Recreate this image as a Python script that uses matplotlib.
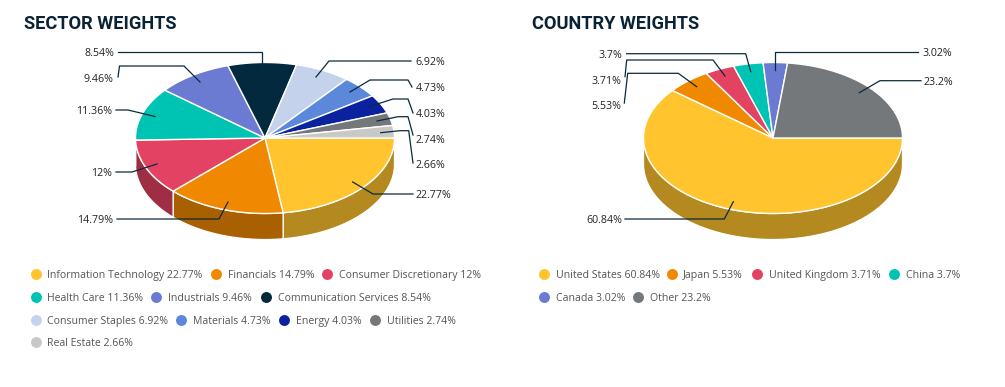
import numpy as np
import matplotlib
matplotlib.use("Agg")
import matplotlib.pyplot as plt

# ---------- data ----------
sector_names = ["Information Technology", "Financials", "Consumer Discretionary", "Health Care",
                "Industrials", "Communication Services", "Consumer Staples", "Materials",
                "Energy", "Utilities", "Real Estate"]
sector_values = [22.77, 14.79, 12, 11.36, 9.46, 8.54, 6.92, 4.73, 4.03, 2.74, 2.66]
country_names = ["United States", "Japan", "United Kingdom", "China", "Canada", "Other"]
country_values = [60.84, 5.53, 3.71, 3.7, 3.02, 23.2]

# ---------- styles ----------
sector_colors = ["#FFC42E", "#F08900", "#E34262", "#00C4B3", "#6C7BD2", "#02293D",
                 "#C5D2EC", "#5B88DB", "#0A22A0", "#75787B", "#C8C9C7"]
country_colors = ["#FFC42E", "#F08900", "#E34262", "#00C4B3", "#6C7BD2", "#75787B"]
TITLE = "#0B2235"; LABEL = "#222222"; LEG = "#555555"; LINE = "#0B2A3C"

W, H = 1005, 387
fig = plt.figure(figsize=(W / 100, H / 100), dpi=100, facecolor="white")
ax = fig.add_axes([0, 0, 1, 1])
ax.set_xlim(0, W); ax.set_ylim(H, 0); ax.axis("off")

RX, RY, DEPTH = 129.5, 75.5, 26


def darken(c, f=0.7):
    r, g, b = matplotlib.colors.to_rgb(c)
    return (r * f, g * f, b * f)


def pie3d(cx, cy, values, colors):
    fr = np.cumsum([0] + list(values)) / sum(values) * 2 * np.pi
    for i, c in enumerate(colors):
        a, b = fr[i], min(fr[i + 1], np.pi)
        if a >= np.pi:
            continue
        t = np.linspace(a, b, 80)
        x = cx + RX * np.cos(t); y = cy + RY * np.sin(t)
        ax.fill(np.r_[x, x[::-1]], np.r_[y, y[::-1] + DEPTH], fc=darken(c),
                ec="white", lw=0.9, zorder=2, joinstyle="round")
    for i, c in enumerate(colors):
        t = np.linspace(fr[i], fr[i + 1], 120)
        x = np.r_[cx, cx + RX * np.cos(t), cx]
        y = np.r_[cy, cy + RY * np.sin(t), cy]
        ax.fill(x, y, fc=c, ec="white", lw=1.0, zorder=3, joinstyle="round")


def leaders(items):
    for txt, ha, tx, ty, path in items:
        ax.plot(*zip(*path), color=LINE, lw=0.9, zorder=5, solid_joinstyle="round")
        ax.text(tx, ty + 3.6, txt, ha=ha, va="baseline", fontsize=7.7, color=LABEL,
                family="Open Sans", zorder=6)


def legend(names, values, colors, layout):
    for n, v, c, (mx, tx, y) in zip(names, values, colors, layout):
        ax.scatter([mx], [y], s=62, color=c, lw=0, zorder=4)
        ax.text(tx, y + 3.6, f"{n} {v:g}%", ha="left", va="baseline", fontsize=7.52,
                color=LEG, family="Open Sans")


ax.text(24, 29, "SECTOR WEIGHTS", fontsize=13.15, fontweight="bold", family="Roboto",
        color=TITLE, va="baseline", ha="left")
ax.text(532, 29, "COUNTRY WEIGHTS", fontsize=13.15, fontweight="bold", family="Roboto",
        color=TITLE, va="baseline", ha="left")

pie3d(265, 138, sector_values, sector_colors)
pie3d(773, 138, country_values, country_colors)


def fmt(v):
    return f"{v:g}%"


s = sector_values
leaders([
    (fmt(s[5]), "right", 114, 52, [(118, 52), (262, 52), (262, 70)]),
    (fmt(s[4]), "right", 113, 78, [(118, 77), (119.5, 66), (184, 66), (200, 82)]),
    (fmt(s[3]), "right", 112, 110.5, [(116, 110), (128, 110), (155, 116.5)]),
    (fmt(s[2]), "right", 112, 172.5, [(116, 172), (132, 172), (157, 164)]),
    (fmt(s[1]), "right", 113, 219, [(117, 219), (219, 219), (228, 202)]),
    (fmt(s[6]), "left", 415, 61.5, [(411, 61), (329, 61), (316, 77)]),
    (fmt(s[7]), "left", 416, 87.5, [(412, 87), (408, 80), (370, 80), (350, 92)]),
    (fmt(s[8]), "left", 416, 113.5, [(413, 113), (408, 99), (393, 99), (368, 107)]),
    (fmt(s[9]), "left", 416, 139, [(413, 135), (408, 116.7), (398, 116.7), (377, 121)]),
    (fmt(s[10]), "left", 416, 164.5, [(413, 163), (408.7, 130.7), (400, 130.7), (380.7, 132.7)]),
    (fmt(s[0]), "left", 416, 194, [(413, 194), (373, 194), (352.7, 182)]),
])
c = country_values
leaders([
    (fmt(c[3]), "right", 622, 54, [(626.7, 53.7), (745.7, 53.7), (750.7, 71.7)]),
    (fmt(c[2]), "right", 621.7, 80.5, [(625, 76.7), (626.7, 60), (713, 60), (725, 76)]),
    (fmt(c[1]), "right", 621, 105.5, [(624.3, 103), (627.7, 73.3), (678.3, 73.3), (696.7, 86.7)]),
    (fmt(c[4]), "left", 922.7, 52, [(918, 52.3), (775, 52.3), (775, 70)]),
    (fmt(c[5]), "left", 924, 81, [(921, 80.7), (880, 80.7), (859.3, 92.7)]),
    (fmt(c[0]), "right", 622, 219, [(625, 219), (724.3, 219), (733.3, 201.7)]),
])

legend(sector_names, sector_values, sector_colors, [
    (35.7, 47, 274), (216, 228, 274), (327, 339, 274),
    (35.7, 47, 297), (156, 168, 297), (265.7, 277.7, 297),
    (35.7, 47, 320), (181, 193, 320), (283.7, 295.7, 320), (375.3, 387, 320),
    (35.7, 47, 342),
])
legend(country_names, country_values, country_colors, [
    (544, 555.7, 274), (672.3, 683.3, 274), (757.3, 769, 274), (894, 905.7, 274),
    (544, 555.7, 297), (638.3, 650, 297),
])

fig.savefig("out.png", dpi=100, facecolor="white")
